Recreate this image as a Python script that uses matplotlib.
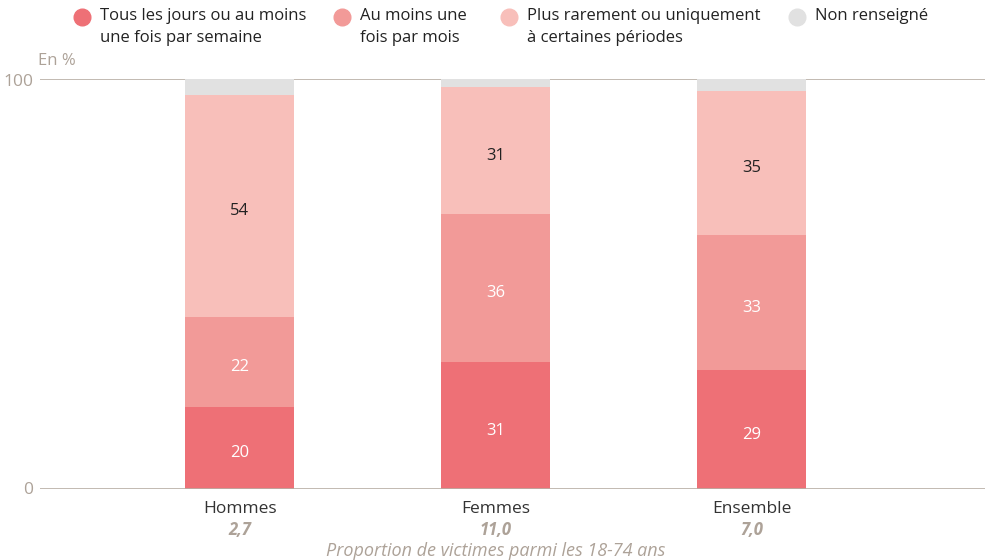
import matplotlib.pyplot as plt
from matplotlib.lines import Line2D
import numpy as np

plt.rcParams["font.family"] = ["Open Sans", "DejaVu Sans"]

categories = ["Hommes", "Femmes", "Ensemble"]
proportions = ["2,7", "11,0", "7,0"]
series_names = [
    "Tous les jours ou au moins\nune fois par semaine",
    "Au moins une\nfois par mois",
    "Plus rarement ou uniquement\nà certaines périodes",
    "Non renseigné",
]
frequent = [20, 31, 29]
monthly = [22, 36, 33]
rarely = [54, 31, 35]
unknown = [4, 2, 3]

colors = ["#EE7076", "#F29A98", "#F8BFBA", "#E1E1E1"]
label_colors = ["white", "white", "#222222", None]
axis_color = "#B8AEA4"
muted = "#ADA298"

fig = plt.figure(figsize=(9.85, 5.6), dpi=100)
ax = fig.add_axes([40 / 985, 71 / 560, 945 / 985, 410 / 560])

x = np.arange(len(categories))
width = 0.426
bottom = np.zeros(len(categories))
for values, color, tcolor in zip([frequent, monthly, rarely, unknown], colors, label_colors):
    values = np.array(values)
    ax.bar(x, values, width, bottom=bottom, color=color, zorder=2)
    if tcolor:
        for xi, b, v in zip(x, bottom, values):
            ax.text(xi, b + v / 2 - 1.3, str(v), ha="center", va="center",
                    color=tcolor, fontsize=12)
    bottom += values

ax.set_xlim(-0.78, 2.91)
ax.set_ylim(0, 100)
for s in ax.spines.values():
    s.set_visible(False)
ax.axhline(0, color=axis_color, lw=1.2, zorder=3)
ax.axhline(100, color=axis_color, lw=1.2, zorder=1)
ax.set_xticks([])
ax.set_yticks([])

# y labels
fig.text(33 / 985, 1 - 82 / 560, "100", ha="right", va="center", color=muted, fontsize=12.5)
fig.text(33 / 985, 1 - 490 / 560, "0", ha="right", va="center", color=muted, fontsize=12.5)
fig.text(38 / 985, 1 - 61 / 560, "En %", ha="left", va="center", color=muted, fontsize=12)

# category labels
for xi, cat, prop in zip(x, categories, proportions):
    ax.text(xi, -4.8, cat, ha="center", va="center", color="#333333", fontsize=12.5)
    ax.text(xi, -10.0, prop, ha="center", va="center", color=muted,
            fontsize=12, style="italic", fontweight="bold")
ax.text(1, -15.1, "Proportion de victimes parmi les 18-74 ans", ha="center",
        va="center", color=muted, fontsize=13, style="italic")

# legend
marker_x = [82, 342, 509, 797]
for mx, name, color in zip(marker_x, series_names, colors):
    fig.add_artist(Line2D([mx / 985], [1 - 17 / 560], marker="o", markersize=12,
                          color=color, linestyle="none",
                          transform=fig.transFigure))
    fig.text((mx + 18) / 985, 1 - 8 / 560, name, ha="left", va="top",
             color="#222222", fontsize=12, linespacing=1.5)

fig.savefig("out.png", dpi=100)
